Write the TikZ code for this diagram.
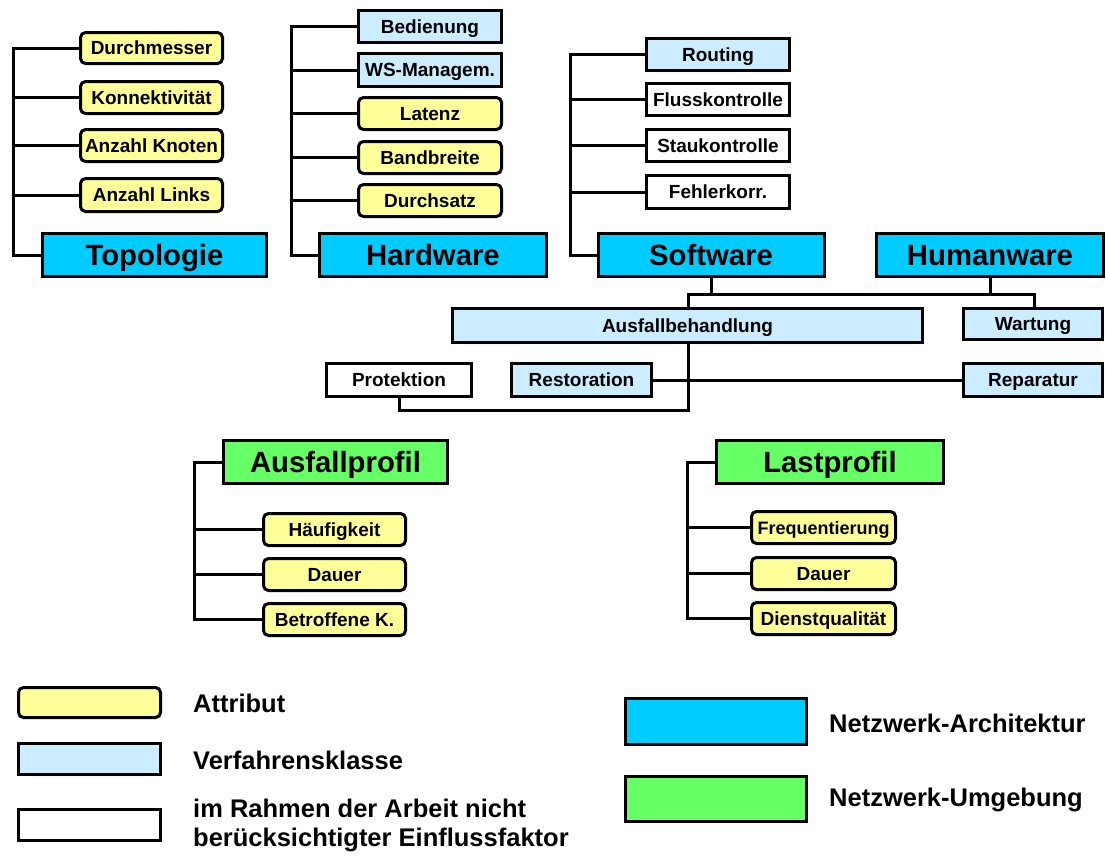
\documentclass[tikz,border=0pt]{standalone}
\usepackage{fontspec}
\setmainfont{Liberation Sans}
\definecolor{attrfill}{HTML}{FFFF99}
\definecolor{procfill}{HTML}{CCECFF}
\definecolor{archfill}{HTML}{00CCFF}
\definecolor{envfill}{HTML}{66FF66}
\tikzset{
  base/.style={draw=black, line width=3pt, inner sep=0pt, text=black,
    text height=13.6pt, text depth=0pt,
    font=\bfseries\fontsize{19}{21}\selectfont},
  attr/.style={base, fill=attrfill, rounded corners=5pt},
  proc/.style={base, fill=procfill},
  plain/.style={base, fill=white},
  big/.style={base, text height=21pt, font=\bfseries\fontsize{29.3}{31}\selectfont},
  arch/.style={big, fill=archfill},
  env/.style={big, fill=envfill},
  wire/.style={line width=3pt},
  legtext/.style={anchor=west, inner sep=0pt, align=left,
    font=\bfseries\fontsize{25.5}{29}\selectfont},
  sz/.style 2 args={minimum width=#1pt, minimum height=#2pt},
}
\begin{document}
\begin{tikzpicture}[x=1pt, y=-1pt]
\useasboundingbox (0,0) rectangle (1106,855);

% --- Topologie ---
\node[attr, sz={142}{31}] (dm)  at (151.5,48)   {Durchmesser};
\node[attr, sz={142}{32}] (kon) at (151.5,97.5) {Konnektivität};
\node[attr, sz={142}{32}] (ak)  at (151.5,145.5){Anzahl Knoten};
\node[attr, sz={142}{33}] (al)  at (151.5,195)  {Anzahl Links};
\node[arch, sz={224}{43}] (topo) at (154.5,255) {Topologie};
\coordinate (tB) at (13,255);
\draw[wire] (dm.west) -| (tB) -- (topo.west);
\foreach \n in {kon,ak,al} \draw[wire] (\n.west) -- (\n.west -| tB);

% --- Hardware ---
\node[proc, sz={143}{32}] (bed)   at (430,26.5)  {Bedienung};
\node[proc, sz={143}{33}] (ws)    at (430,70)    {WS-Managem.};
\node[attr, sz={143}{32}] (lat)   at (430,113.5) {Latenz};
\node[attr, sz={143}{32}] (band)  at (430,157.5) {Bandbreite};
\node[attr, sz={143}{32}] (durch) at (430,200.5) {Durchsatz};
\node[arch, sz={227}{43}] (hw)    at (433,255)   {Hardware};
\coordinate (hB) at (291,255);
\draw[wire] (bed.west) -| (hB) -- (hw.west);
\foreach \n in {ws,lat,band,durch} \draw[wire] (\n.west) -- (\n.west -| hB);

% --- Software ---
\node[proc,  sz={143}{32}] (rout)  at (718,54.5)  {Routing};
\node[plain, sz={143}{32}] (fluss) at (718,99.5)  {Flusskontrolle};
\node[plain, sz={143}{32}] (stau)  at (718,145.5) {Staukontrolle};
\node[plain, sz={143}{33}] (fehl)  at (718,192)   {Fehlerkorr.};
\node[arch,  sz={226}{43}] (sw)    at (711,255)   {Software};
\coordinate (sB) at (570,255);
\draw[wire] (rout.west) -| (sB) -- (sw.west);
\foreach \n in {fluss,stau,fehl} \draw[wire] (\n.west) -- (\n.west -| sB);

% --- Humanware ---
\node[arch, sz={227}{43}] (huw) at (990,255) {Humanware};

% --- Ausfallbehandlung / Wartung ---
\node[proc, sz={470}{34}] (ausf) at (687.5,325.5) {Ausfallbehandlung};
\node[proc, sz={139}{31}] (wart) at (1033,324)    {Wartung};
\coordinate (busL) at (688,294);
\coordinate (busR) at (1034,294);
\draw[wire] (sw.south) -- (sw.south |- busL);
\draw[wire] (huw.south) -- (huw.south |- busL);
\draw[wire] (ausf.north -| busL) -- (busL) -- (busR) -- (wart.north -| busR);

% --- Protektion / Restoration / Reparatur ---
\node[plain, sz={145}{33}] (prot) at (399,380)    {Protektion};
\node[proc,  sz={140}{33}] (rest) at (581.5,380)  {Restoration};
\node[proc,  sz={139}{33}] (rep)  at (1033,380)   {Reparatur};
\coordinate (aB) at (688,410);
\draw[wire] (rest.east) -- (rep.west);
\draw[wire] (ausf.south -| aB) -- (aB) -| (prot.south);

% --- Ausfallprofil ---
\node[env,  sz={224}{43}] (ausp)   at (335.5,462)   {Ausfallprofil};
\node[attr, sz={142}{32}] (hauf)   at (334.5,529.5) {Häufigkeit};
\node[attr, sz={142}{32}] (dauerA) at (334.5,574.5) {Dauer};
\node[attr, sz={142}{32}] (betr)   at (334.5,619.5) {Betroffene K.};
\coordinate (pA) at (194,462);
\draw[wire] (ausp.west) -- (pA) |- (betr.west);
\foreach \n in {hauf,dauerA} \draw[wire] (\n.west) -- (\n.west -| pA);

% --- Lastprofil ---
\node[env,  sz={227}{43}] (lastp)  at (830,462)     {Lastprofil};
\node[attr, sz={144}{32}, font=\bfseries\fontsize{18}{20}\selectfont]
  (freq)   at (823.5,527.5) {Frequentierung};
\node[attr, sz={144}{32}] (dauerB) at (823.5,573.5) {Dauer};
\node[attr, sz={144}{32}] (dienst) at (823.5,618.5) {Dienstqualität};
\coordinate (pL) at (687,462);
\draw[wire] (lastp.west) -- (pL) |- (dienst.west);
\foreach \n in {freq,dauerB} \draw[wire] (\n.west) -- (\n.west -| pL);

% --- Legende ---
\node[attr,  sz={142}{30}] (legA) at (89.5,702.5) {};
\node[proc,  sz={142}{31}] (legB) at (89.5,759)   {};
\node[plain, sz={142}{31}] (legC) at (89.5,825)   {};
\node[legtext] (legAt) at (193,703) {Attribut};
\node[legtext] (legBt) at (193,760) {Verfahrensklasse};
\node[legtext] (legCt) at (193,825) {im Rahmen der Arbeit nicht\\berücksichtigter Einflussfaktor};
\node[base, fill=archfill, sz={181}{46}] (legD) at (716,721.5) {};
\node[base, fill=envfill,  sz={181}{45}] (legE) at (716,799)   {};
\node[legtext] (legDt) at (829,723) {Netzwerk-Architektur};
\node[legtext] (legEt) at (829,800) {Netzwerk-Umgebung};
\end{tikzpicture}
\end{document}
